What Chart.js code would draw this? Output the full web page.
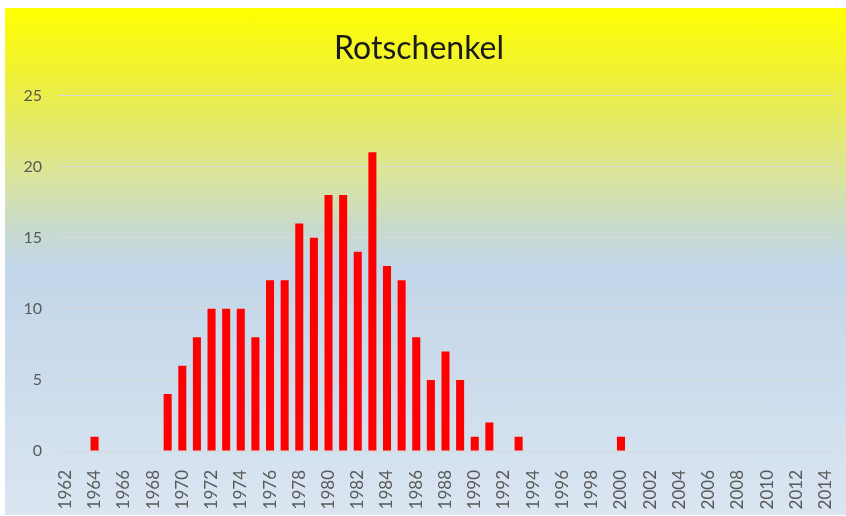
<!DOCTYPE html>
<html>
<head>
<meta charset="utf-8">
<script src="https://cdn.jsdelivr.net/npm/chart.js@4.4.1/dist/chart.umd.min.js"></script>
<style>
  html, body { margin: 0; padding: 0; background: #ffffff; }
  body { width: 846px; height: 516px; position: relative; overflow: hidden; }
  #box {
    position: absolute; left: 5px; top: 8px; width: 841px; height: 507px;
    background: linear-gradient(to bottom, #ffff00 0%, #eef03a 14%, #dce596 32%, #cadcc6 42%, #c2d6e9 51%, #ccdcec 72%, #dae5f1 100%);
  }
</style>
</head>
<body>
<div id="box"><canvas id="chart"></canvas></div>
<script>
// Jahre 1962 - 2014
const years = [];
for (let y = 1962; y <= 2014; y++) years.push(String(y));

// Anzahl pro Jahr
const counts = [
  0, 0, 1, 0, 0, 0, 0, 4, 6, 8,        // 1962-1971
  10, 10, 10, 8, 12, 12, 16, 15, 18, 18, // 1972-1981
  14, 21, 13, 12, 8, 5, 7, 5, 1, 2,     // 1982-1991
  0, 1, 0, 0, 0, 0, 0, 0, 1, 0,         // 1992-2001
  0, 0, 0, 0, 0, 0, 0, 0, 0, 0,         // 2002-2011
  0, 0, 0                               // 2012-2014
];

const yTicks = [0, 5, 10, 15, 20, 25];
const chartTitle = 'Rotschenkel';

const ctx = document.getElementById('chart').getContext('2d');
new Chart(ctx, {
  type: 'bar',
  data: {
    labels: years,
    datasets: [{
      label: chartTitle,
      data: counts,
      backgroundColor: '#ff0000',
      borderWidth: 0,
      barPercentage: 0.55,
      categoryPercentage: 1.0
    }]
  },
  options: {
    responsive: true,
    maintainAspectRatio: false,
    animation: false,
    layout: { padding: { left: 0, right: 13, top: 0, bottom: 0 } },
    plugins: {
      legend: { display: false },
      tooltip: { enabled: false },
      title: {
        display: true,
        text: chartTitle,
        color: '#1a1a1a',
        font: { family: 'Lato', size: 32, weight: 'normal' },
        padding: { top: 21, bottom: 28 }
      }
    },
    scales: {
      y: {
        min: 0, max: 25,
        afterBuildTicks: (s) => { s.ticks = yTicks.map(v => ({ value: v })); },
        afterFit: (s) => { s.width = 53; },
        grid: { color: '#d9d9d9', lineWidth: 1, drawTicks: false },
        border: { display: false },
        ticks: { color: '#595959', padding: 16, font: { family: 'Lato', size: 16 } }
      },
      x: {
        afterFit: (s) => { s.height = 64; s.paddingLeft = 0; s.paddingRight = 0; },
        grid: { display: false, drawTicks: false },
        border: { display: true, color: '#d9d9d9', width: 1 },
        ticks: {
          autoSkip: false,
          maxRotation: 90, minRotation: 90,
          padding: 19,
          color: '#595959',
          font: { family: 'Lato', size: 17 },
          callback: (v, i) => (i % 2 === 0 ? years[i] : '')
        }
      }
    }
  }
});
</script>
</body>
</html>
